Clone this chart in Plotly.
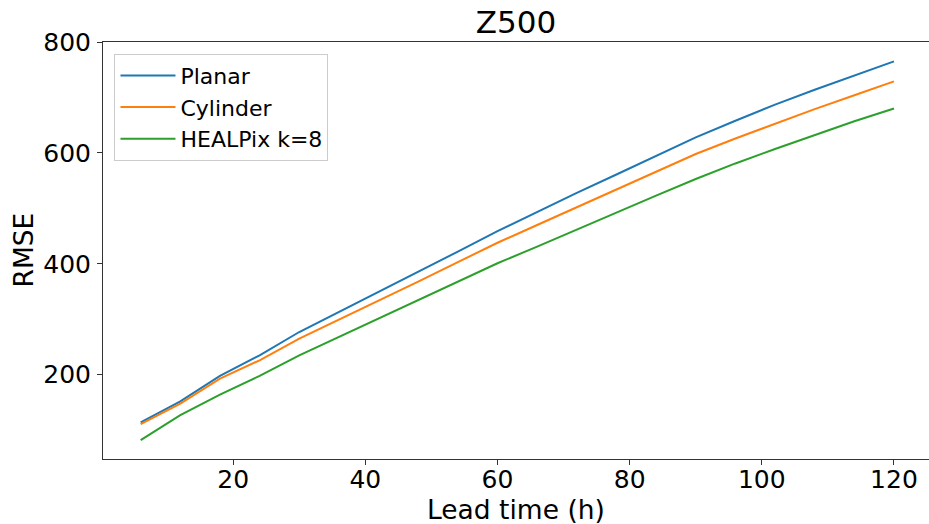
import plotly.graph_objects as go

lead_time = [6, 12, 18, 24, 30, 36, 42, 48, 54, 60, 66, 72, 78, 84, 90, 96, 102, 108, 114, 120]
planar = [114, 152, 198, 235, 277, 313, 350, 386, 422, 459, 494, 528, 561, 595, 628, 658, 687, 714, 740, 765]
cylinder = [111, 148, 193, 226, 265, 299, 333, 368, 403, 438, 470, 502, 534, 567, 598, 626, 653, 679, 704, 729]
healpix = [82, 127, 164, 198, 235, 268, 301, 335, 368, 401, 431, 462, 492, 523, 553, 581, 607, 632, 657, 680]

series_names = ["Planar", "Cylinder", "HEALPix k=8"]
series_values = [planar, cylinder, healpix]
colors = ["#1f77b4", "#ff7f0e", "#2ca02c"]

x_ticks = [20, 40, 60, 80, 100, 120]
y_ticks = [200, 400, 600, 800]

fig = go.Figure()
for name, vals, c in zip(series_names, series_values, colors):
    fig.add_trace(go.Scatter(x=lead_time, y=vals, mode="lines", name=name,
                             line=dict(color=c, width=2)))

font = "DejaVu Sans, Liberation Sans, sans-serif"
axis_common = dict(showgrid=False, zeroline=False, showline=True, linecolor="#333333",
                   linewidth=1, ticks="outside", ticklen=5, tickcolor="#333333",
                   automargin=False,
                   tickfont=dict(family=font, size=25, color="black"))

plot_l, plot_r, plot_t, plot_b = 103, 929, 42, 459

fig.update_layout(
    width=929, height=524,
    margin=dict(l=plot_l, r=929 - plot_r, t=plot_t, b=524 - plot_b, autoexpand=False),
    paper_bgcolor="white", plot_bgcolor="white",
    font=dict(family=font, color="black"),
    title=dict(text="Z500", x=0.5, xref="paper", xanchor="center",
               y=1 - 22.5 / 524, yref="container", yanchor="middle",
               font=dict(family=font, size=31, color="black")),
    xaxis=dict(range=[0.3, 125.3], tickvals=x_ticks, mirror=True, ticklabelstandoff=-7,
               **axis_common),
    yaxis=dict(range=[48, 800], tickvals=y_ticks, ticklabelstandoff=1, **axis_common),
    legend=dict(x=0.0139, y=0.972, xanchor="left", yanchor="top",
                bgcolor="rgba(255,255,255,0.8)", bordercolor="#cccccc", borderwidth=1,
                font=dict(family=font, size=22, color="black"), itemwidth=55,
                tracegroupgap=0),
    showlegend=True,
    annotations=[
        dict(text="Lead time (h)", x=0.5, xref="paper",
             y=(plot_b - 510) / (plot_b - plot_t), yref="paper",
             yanchor="middle", xanchor="center", showarrow=False,
             font=dict(family=font, size=26.5, color="black")),
        dict(text="RMSE", x=(23 - plot_l) / (plot_r - plot_l), xref="paper", y=0.5, yref="paper",
             textangle=-90, xanchor="center", yanchor="middle", showarrow=False,
             font=dict(family=font, size=26.5, color="black")),
    ],
)

fig.write_html("out.html", config={"displayModeBar": False},
               post_script="document.body.style.margin='0';document.body.style.overflow='hidden';")
